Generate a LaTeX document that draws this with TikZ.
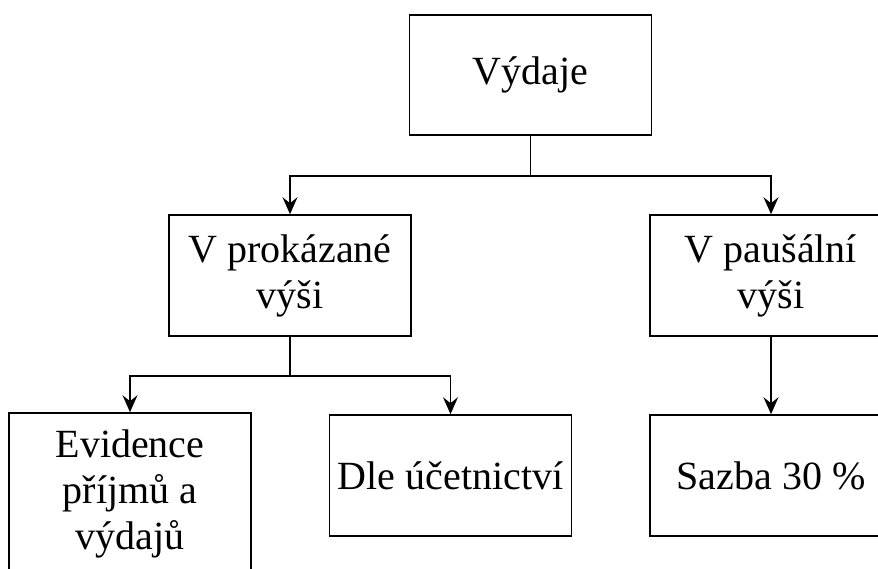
\documentclass[tikz,border=0pt]{standalone}
\usepackage{fontspec}
\setmainfont{Liberation Serif}
\usetikzlibrary{arrows.meta,calc}
\begin{document}
\begin{tikzpicture}[x=1pt,y=-1pt,
  box/.style={draw=black, line width=1.6pt, rectangle, inner sep=0pt,
    minimum width=242pt, minimum height=121pt, align=center,
    font=\fontsize{40}{46}\selectfont},
  arr/.style={draw=black, line width=1.6pt,
    -{Stealth[length=17pt,width=15pt,inset=6pt]}},
  link/.style={draw=black, line width=1.6pt}]
  \clip (0,0) rectangle (878,569);
  \useasboundingbox (0,0) rectangle (878,569);

  % boxes
  \node[box, minimum height=120pt] (vydaje) at (530.5,75) {Výdaje};
  \node[box] (prokaz) at (290,275.5) {V prokázané\\výši};
  \node[box] (pausal) at (771,275.5) {V paušální\\výši};
  \node[box, minimum height=162pt] (evid) at (130,494) {Evidence\\příjmů a\\výdajů};
  \node[box] (ucet) at (450.5,475.5) {Dle účetnictví};
  \node[box] (sazba) at (771,475.5) {Sazba 30 \%};

  % first level branches
  \coordinate (j1) at ($(vydaje.south)+(0,40)$);
  \draw[link] (vydaje.south) -- (j1);
  \draw[arr] (j1) -| (prokaz.north);
  \draw[arr] (j1) -| (pausal.north);

  % second level branches
  \coordinate (j2) at ($(prokaz.south)+(0,39)$);
  \draw[link] (prokaz.south) -- (j2);
  \draw[arr] (j2) -| (evid.north);
  \draw[arr] (j2) -| (ucet.north);

  \draw[arr] (pausal.south) -- (sazba.north);
\end{tikzpicture}
\end{document}
